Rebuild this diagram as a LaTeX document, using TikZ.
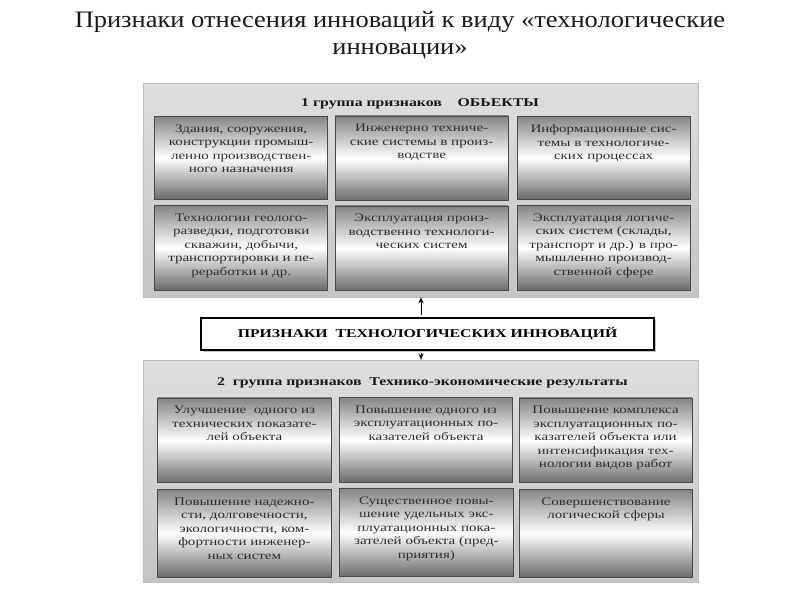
\documentclass[tikz,border=0pt]{standalone}
\usepackage{fontspec}
\setmainfont{Liberation Serif}
\newfontfamily\cardfont[FakeStretch=1.32]{Liberation Serif}
\newfontfamily\titlefont[FakeStretch=1.12]{Liberation Serif}
\usepackage{tikz}
\usetikzlibrary{arrows.meta,positioning,shadows,calc}
\definecolor{cardedge}{HTML}{4A4A4A}
\definecolor{inktext}{HTML}{2E2E2E}
\definecolor{paneledge}{HTML}{BDBDBD}

\begin{document}
\begin{tikzpicture}[
		panel/.style={draw=paneledge,line width=0.5pt,top color=black!13,bottom color=black!23,minimum width=13.875cm,inner sep=0pt},
		card/.style={draw=cardedge,line width=0.6pt,top color=black!48,bottom color=black!58,middle color=white,
			inner xsep=0pt,inner ysep=6pt,text=inktext,font=\cardfont\fontsize{8.1}{9.6}\selectfont,
			execute at begin node={\begin{minipage}[t][#1][t]{4.33cm}\centering},
			execute at end node={\end{minipage}}},
		head/.style={font=\cardfont\bfseries\fontsize{8.5}{10}\selectfont,text=black!90},
		key/.style={draw=black,line width=1.8pt,fill=white,minimum width=11.33cm,minimum height=0.8cm,
			font=\cardfont\bfseries\fontsize{8.5}{10}\selectfont,
			drop shadow={shadow xshift=0.5mm,shadow yshift=-0.5mm,fill=black!45}},
		arr/.style={-{Stealth[length=1.5mm,width=1.3mm]},line width=0.6pt}
		]
		\fill[white] (0,0) rectangle (20,-15);
		\useasboundingbox (0,0) rectangle (20,-15);

		% Title
		\node[font=\titlefont\fontsize{16.8}{18.6}\selectfont,align=center,text=black!90] (title) at (10,-0.88)
		{Признаки отнесения инноваций к виду «технологические\\инновации»};

		% Group 1: objects
		\node[panel,minimum height=5.35cm] (grp1) at (10.51,-4.75) {};
		\node[head] (head1) at (10.5,-2.6) {1 группа признаков\quad\ ОБЬЕКТЫ};
		\node[card=1.65cm] (obj1) at (6.03,-3.94) {Здания, сооружения,\\конструкции промыш-\\ленно производствен-\\ного назначения};
		\node[card=1.70cm] (obj2) at (10.54,-3.96) {Инженерно техниче-\\ские системы в произ-\\водстве};
		\node[card=1.65cm] (obj3) at (15.09,-3.94) {Информационные сис-\\темы в технологиче-\\ских процессах};
		\node[card=1.70cm] (obj4) at (6.03,-6.19) {Технологии геолого-\\разведки, подготовки\\скважин, добычи,\\транспортировки и пе-\\реработки и др.};
		\node[card=1.70cm] (obj5) at (10.54,-6.21) {Эксплуатация произ-\\водственно технологи-\\ческих систем};
		\node[card=1.70cm] (obj6) at (15.09,-6.19) {Эксплуатация логиче-\\ских систем (склады,\\транспорт и др.) в про-\\мышленно производ-\\ственной сфере};

		% Key box
		\node[key] (key) at (10.69,-8.35) {ПРИЗНАКИ\ \ ТЕХНОЛОГИЧЕСКИХ ИННОВАЦИЙ};

		% Group 2: results
		\node[panel,minimum height=5.55cm] (grp2) at (10.51,-11.775) {};
		\node[head] (head2) at (10.56,-9.575) {2\ \ группа признаков\ \ Технико-экономические результаты};
		\node[card=1.70cm] (res1) at (6.11,-11.01) {Улучшение\ \ одного из\\технических показате-\\лей объекта};
		\node[card=1.70cm] (res2) at (10.65,-10.99) {Повышение одного из\\эксплуатационных по-\\казателей объекта};
		\node[card=1.70cm] (res3) at (15.14,-11.01) {Повышение комплекса\\эксплуатационных по-\\казателей объекта или\\интенсификация тех-\\нологии видов работ};
		\node[card=1.77cm] (res4) at (6.11,-13.33) {Повышение надежно-\\сти, долговечности,\\экологичности, ком-\\фортности инженер-\\ных систем};
		\node[card=1.79cm] (res5) at (10.66,-13.31) {Существенное повы-\\шение удельных экс-\\плуатационных пока-\\зателей объекта (пред-\\приятия)};
		\node[card=1.77cm] (res6) at (15.15,-13.33) {Совершенствование\\логической сферы};

		\draw[arr] ([xshift=-1.65mm,yshift=1pt]key.north) -- ([xshift=-1.65mm]key.north |- grp1.south);
		\draw[arr] ([xshift=-1.65mm,yshift=-1pt]key.south) -- ([xshift=-1.65mm]key.south |- grp2.north);
	\end{tikzpicture}
\end{document}
